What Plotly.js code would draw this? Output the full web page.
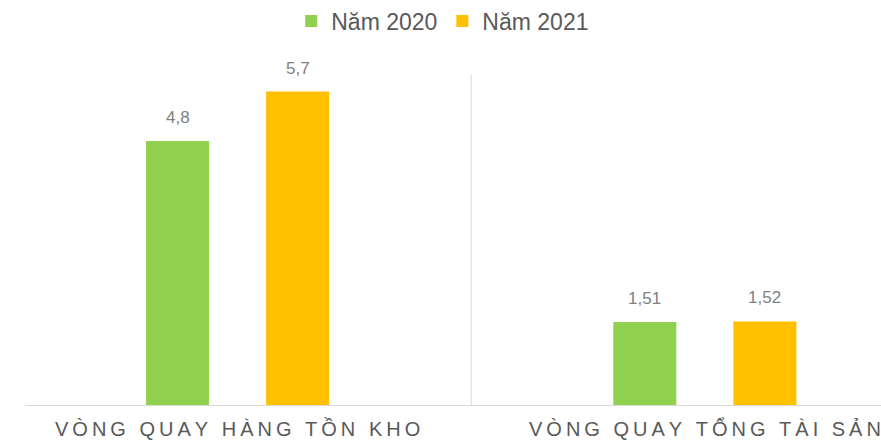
<!DOCTYPE html>
<html>
<head>
<meta charset="utf-8">
<script src="https://cdn.plot.ly/plotly-3.0.1.min.js"></script>
<style>html,body{margin:0;padding:0;background:#fff;}#chart{width:881px;height:441px;}</style>
</head>
<body>
<div id="chart"></div>
<script>
var categories = ["VÒNG QUAY HÀNG TỒN KHO", "VÒNG QUAY TỔNG TÀI SẢN"];
var seriesNames = ["Năm 2020", "Năm 2021"];
var values2020 = [4.8, 1.51];
var values2021 = [5.7, 1.52];
var colors = ["#92D050", "#FFC000"];

var FONT = "Liberation Sans, Arial, sans-serif";
function spaced(s) {
  return s.split(" ").map(function (w) { return Array.from(w).join("\u2009"); }).join("\u2009 \u2009");
}
function fmt(v) { return String(v).replace(".", ","); }

var catIdx = categories.map(function (c, i) { return i; });
var series = [values2020, values2021];

var traces = series.map(function (vals, k) {
  return {
    type: "bar",
    name: seriesNames[k],
    x: catIdx,
    y: vals,
    marker: { color: colors[k] },
    hoverinfo: "none"
  };
});

var annotations = [];
series.forEach(function (vals, k) {
  vals.forEach(function (v, i) {
    annotations.push({
      x: i, y: v, xref: "x", yref: "y",
      xshift: (k === 0 ? -60 : 60), yshift: 12,
      text: fmt(v), showarrow: false, yanchor: "bottom",
      font: { family: FONT, size: 17, color: "#7F7F7F" }
    });
  });
});
categories.forEach(function (c, i) {
  annotations.push({
    x: i, y: 0, xref: "x", yref: "y", yshift: -23, yanchor: "middle",
    text: spaced(c), showarrow: false,
    font: { family: FONT, size: 20, color: "#595959" }
  });
});

var layout = {
  width: 881, height: 441,
  margin: { l: 25, r: 0, t: 75, b: 36 },
  paper_bgcolor: "#ffffff", plot_bgcolor: "#ffffff",
  barmode: "group", bargap: 0.486, bargroupgap: 0.475,
  showlegend: true,
  legend: {
    orientation: "h", x: 0.488, xanchor: "center",
    yref: "container", y: 0.952, yanchor: "middle",
    font: { family: FONT, size: 23, color: "#595959" },
    itemwidth: 30, tracegroupgap: 0
  },
  xaxis: {
    range: [-0.455, 1.377],
    showticklabels: false,
    showgrid: false, zeroline: false,
    showline: true, linecolor: "#D9D9D9", linewidth: 1,
    ticks: "", fixedrange: true
  },
  yaxis: {
    range: [0, 6], visible: false, showgrid: false, zeroline: false, fixedrange: true
  },
  shapes: [{
    type: "line", xref: "x", yref: "y", x0: 0.5, x1: 0.5, y0: 0, y1: 6,
    line: { color: "#D9D9D9", width: 1 }
  }],
  annotations: annotations
};

Plotly.newPlot("chart", traces, layout, { displayModeBar: false, staticPlot: true });
</script>
</body>
</html>
